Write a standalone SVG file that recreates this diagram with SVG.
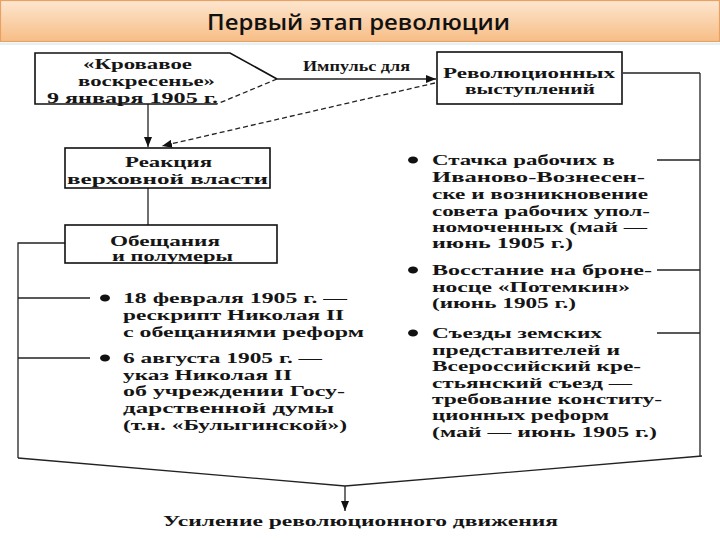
<svg xmlns="http://www.w3.org/2000/svg" width="720" height="540" viewBox="0 0 720 540">
<defs>
<linearGradient id="tg" x1="0" y1="0" x2="0" y2="1">
<stop offset="0" stop-color="#fde6cf"/>
<stop offset="1" stop-color="#f7bd86"/>
</linearGradient>
<marker id="ah" markerWidth="10" markerHeight="8" refX="10" refY="4" orient="auto" markerUnits="userSpaceOnUse">
<path d="M0,0 L10,4 L0,8 Z" fill="#111"/>
</marker>
<style>
.t{font-family:"Liberation Serif","DejaVu Serif",serif;font-weight:bold;font-size:14.5px;fill:#151515}
.box{fill:#fff;stroke:#111;stroke-width:1.6}
.ln{fill:none;stroke:#222;stroke-width:1.3}
.dash{fill:none;stroke:#222;stroke-width:1.3;stroke-dasharray:5 3}
.b{fill:#111}
</style>
</defs>
<rect x="0" y="0" width="720" height="540" fill="#fff"/>
<g id="title">
<rect x="0.5" y="0.5" width="719" height="41" fill="url(#tg)" stroke="#e6a264" stroke-width="1.2"/>
<line x1="0" y1="44" x2="720" y2="44" stroke="#e3f1f8" stroke-width="2"/>
<text x="207" y="30" font-family="'Open Sans','Noto Sans',sans-serif" font-size="22" font-weight="600" fill="#111" textLength="303" lengthAdjust="spacingAndGlyphs">Первый этап революции</text>
</g>
<g id="connectors">
<line class="ln" x1="277" y1="79" x2="436" y2="79" stroke-width="2" marker-end="url(#ah)"/>
<line class="dash" x1="435" y1="83" x2="162" y2="146" marker-end="url(#ah)"/>
<line class="ln" x1="148" y1="104" x2="148" y2="147" marker-end="url(#ah)"/>
<line class="ln" x1="148" y1="188" x2="148" y2="225"/>
<line class="ln" x1="623" y1="73" x2="700" y2="73" stroke-width="1"/>
<line class="ln" x1="700" y1="73" x2="700" y2="456" stroke-width="1.6"/>
<line class="ln" x1="657" y1="160" x2="700" y2="160" stroke-width="1"/>
<line class="ln" x1="657" y1="270" x2="700" y2="270" stroke-width="1"/>
<line class="ln" x1="657" y1="333" x2="700" y2="333" stroke-width="1"/>
<polyline class="ln" points="65,243 18,243 18,458"/>
<line class="ln" x1="18" y1="298" x2="90" y2="298" stroke-width="1"/>
<line class="ln" x1="18" y1="358" x2="90" y2="358" stroke-width="1"/>
<polyline class="ln" points="18,458 345,486 702,456"/>
<line class="ln" x1="345" y1="486" x2="345" y2="511" stroke-width="1.6" marker-end="url(#ah)"/>
<text class="t" x="303" y="71" font-size="13" textLength="107" lengthAdjust="spacingAndGlyphs">Импульс для</text>
</g>
<g id="node-sunday">
<path class="box" d="M217,104 L35,104 L35,53 L230,53 L277,79"/>
<line class="dash" x1="277" y1="79" x2="217" y2="104"/>
<text class="t" x="83" y="69" textLength="109" lengthAdjust="spacingAndGlyphs">«Кровавое</text>
<text class="t" x="78" y="86" textLength="137" lengthAdjust="spacingAndGlyphs">воскресенье»</text>
<text class="t" x="47" y="103" textLength="171" lengthAdjust="spacingAndGlyphs">9 января 1905 г.</text>
</g>
<g id="node-revolution">
<rect class="box" x="437" y="52" width="185" height="52"/>
<text class="t" x="443" y="78" textLength="172" lengthAdjust="spacingAndGlyphs">Революционных</text>
<text class="t" x="465" y="94" textLength="130" lengthAdjust="spacingAndGlyphs">выступлений</text>
</g>
<g id="node-reaction">
<rect class="box" x="65" y="148" width="205" height="40"/>
<text class="t" x="125" y="167" textLength="87" lengthAdjust="spacingAndGlyphs">Реакция</text>
<text class="t" x="67" y="184" textLength="201" lengthAdjust="spacingAndGlyphs">верховной власти</text>
</g>
<g id="node-promises">
<rect class="box" x="65" y="225" width="212" height="38"/>
<text class="t" x="110" y="246" textLength="110" lengthAdjust="spacingAndGlyphs">Обещания</text>
<text class="t" x="112" y="261" textLength="121" lengthAdjust="spacingAndGlyphs">и полумеры</text>
</g>
<g id="node-rescript">
<ellipse class="b" cx="105" cy="298" rx="5" ry="3.5"/>
<text class="t" x="123" y="303" textLength="224" lengthAdjust="spacingAndGlyphs">18 февраля 1905 г. —</text>
<text class="t" x="123" y="320" textLength="221" lengthAdjust="spacingAndGlyphs">рескрипт Николая II</text>
<text class="t" x="123" y="337" textLength="241" lengthAdjust="spacingAndGlyphs">с обещаниями реформ</text>
</g>
<g id="node-decree">
<ellipse class="b" cx="105" cy="358" rx="5" ry="3.5"/>
<text class="t" x="123" y="363" textLength="199" lengthAdjust="spacingAndGlyphs">6 августа 1905 г. —</text>
<text class="t" x="123" y="380" textLength="169" lengthAdjust="spacingAndGlyphs">указ Николая II</text>
<text class="t" x="123" y="396" textLength="222" lengthAdjust="spacingAndGlyphs">об учреждении Госу-</text>
<text class="t" x="123" y="413" textLength="211" lengthAdjust="spacingAndGlyphs">дарственной думы</text>
<text class="t" x="123" y="430" textLength="224" lengthAdjust="spacingAndGlyphs">(т.н. «Булыгинской»)</text>
</g>
<g id="node-strike">
<ellipse class="b" cx="413" cy="160" rx="5" ry="3.5"/>
<text class="t" x="432" y="165" textLength="183" lengthAdjust="spacingAndGlyphs">Стачка рабочих в</text>
<text class="t" x="432" y="182" textLength="213" lengthAdjust="spacingAndGlyphs">Иваново-Вознесен-</text>
<text class="t" x="432" y="199" textLength="216" lengthAdjust="spacingAndGlyphs">ске и возникновение</text>
<text class="t" x="432" y="216" textLength="218" lengthAdjust="spacingAndGlyphs">совета рабочих упол-</text>
<text class="t" x="432" y="232" textLength="215" lengthAdjust="spacingAndGlyphs">номоченных (май —</text>
<text class="t" x="432" y="248" textLength="141" lengthAdjust="spacingAndGlyphs">июнь 1905 г.)</text>
</g>
<g id="node-potemkin">
<ellipse class="b" cx="413" cy="270" rx="5" ry="3.5"/>
<text class="t" x="432" y="275" textLength="220" lengthAdjust="spacingAndGlyphs">Восстание на броне-</text>
<text class="t" x="432" y="292" textLength="198" lengthAdjust="spacingAndGlyphs">носце «Потемкин»</text>
<text class="t" x="432" y="308" textLength="144" lengthAdjust="spacingAndGlyphs">(июнь 1905 г.)</text>
</g>
<g id="node-congress">
<ellipse class="b" cx="413" cy="333" rx="5" ry="3.5"/>
<text class="t" x="432" y="338" textLength="170" lengthAdjust="spacingAndGlyphs">Съезды земских</text>
<text class="t" x="432" y="355" textLength="188" lengthAdjust="spacingAndGlyphs">представителей и</text>
<text class="t" x="432" y="371" textLength="209" lengthAdjust="spacingAndGlyphs">Всероссийский кре-</text>
<text class="t" x="432" y="388" textLength="200" lengthAdjust="spacingAndGlyphs">стьянский съезд —</text>
<text class="t" x="432" y="404" textLength="230" lengthAdjust="spacingAndGlyphs">требование конститу-</text>
<text class="t" x="432" y="420" textLength="177" lengthAdjust="spacingAndGlyphs">ционных реформ</text>
<text class="t" x="432" y="437" textLength="225" lengthAdjust="spacingAndGlyphs">(май — июнь 1905 г.)</text>
</g>
<g id="node-result">
<text class="t" x="163" y="526" textLength="395" lengthAdjust="spacingAndGlyphs">Усиление революционного движения</text>
</g>
</svg>
